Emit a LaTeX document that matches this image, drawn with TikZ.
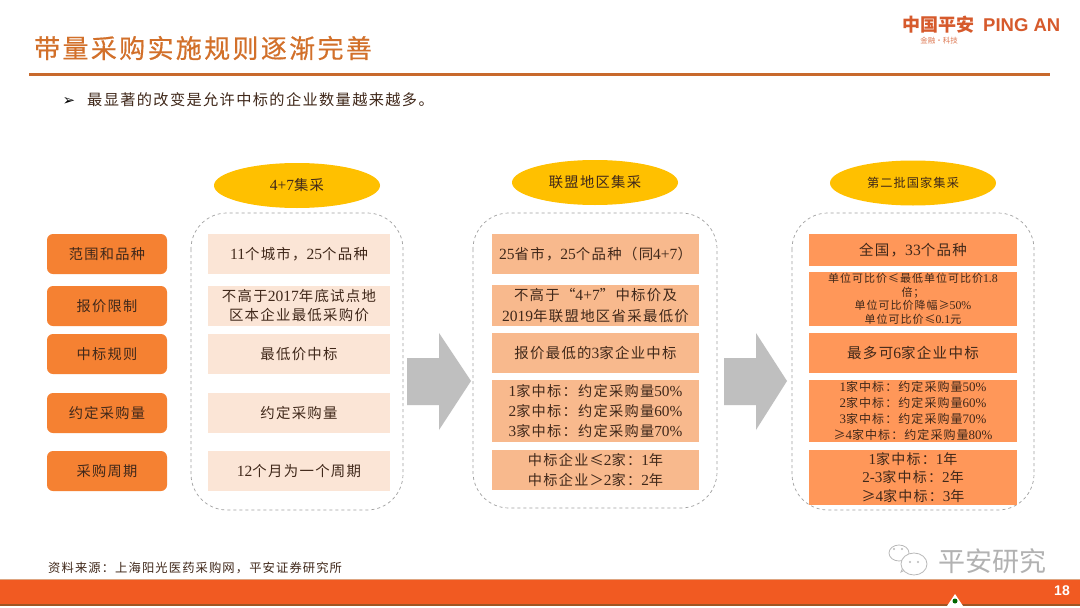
\documentclass[tikz,border=0pt]{standalone}
\usepackage{fontspec}
\usetikzlibrary{shapes.geometric}
\setmainfont{Noto Sans CJK SC}[LetterSpace=9]
\newfontfamily\latn{Liberation Serif}[LetterSpace=0,Scale=1.08]
\newfontfamily\latsans{Liberation Sans}
\newfontfamily\symb{DejaVu Sans}
\newfontfamily\cjktight{Noto Sans CJK SC}
\newfontfamily\titlefont{Noto Sans CJK SC}[LetterSpace=9,FakeBold=0.5]
\definecolor{ruleor}{HTML}{C8692C}
\definecolor{titleor}{HTML}{D2702A}
\definecolor{yel}{HTML}{FFC000}
\definecolor{labelor}{HTML}{F58132}
\definecolor{paleA}{HTML}{FBE5D6}
\definecolor{paleB}{HTML}{F8B98D}
\definecolor{paleC}{HTML}{FF9759}
\definecolor{txt}{HTML}{40281A}
\definecolor{greyarrow}{HTML}{BFBFBF}
\definecolor{barcol}{HTML}{F15A22}
\definecolor{logocol}{HTML}{D65A2C}
\newcommand{\fs}[2]{\fontsize{#1}{#2}\selectfont}
\tikzset{
  x=1pt,y=-1pt,
  ov/.style={ellipse,fill=yel,minimum width=166pt,minimum height=45pt,inner sep=0pt,text=txt,font=\fs{14.3}{16}},
  cont/.style={draw=gray!75,dashed,line width=0.7pt,rounded corners=36pt,fill=white},
  lab/.style={fill=labelor,rounded corners=6pt,minimum width=120pt,minimum height=40pt,inner sep=0pt,text=txt,font=\fs{14.2}{17}},
  cell/.style={minimum height=#1,inner sep=0pt,text=txt,align=center},
  cA/.style={cell=40pt,fill=paleA,minimum width=182pt,font=\fs{14.4}{19}},
  cB/.style={cell=#1,fill=paleB,minimum width=207pt,font=\fs{14.4}{21}},
  cC/.style={cell=#1,fill=paleC,minimum width=208pt},
  bigarrow/.style={fill=greyarrow,draw=none},
}
\begin{document}
\begin{tikzpicture}
\useasboundingbox (0,0) rectangle (1080,608);
\fill[white] (0,0) rectangle (1080,608);
% header
\node[anchor=west,text=titleor,inner sep=0pt,font=\titlefont\fs{26}{30}] (title) at (34,48) {带量采购实施规则逐渐完善};
\fill[ruleor] (29,73) rectangle (1050,76);
\node[anchor=west,inner sep=0pt,text=logocol,font=\cjktight\bfseries\fs{18}{20}] (logoa) at (902,25) {中国平安};
\node[anchor=west,inner sep=0pt,text=logocol,font=\latsans\bfseries\fs{18.5}{20}] (logob) at (983,25) {PING AN};
\node[anchor=center,inner sep=0pt,text=logocol!80,font=\cjktight\fs{7.5}{9}] (logoc) at (939,41) {金融·科技};
\node[inner sep=0pt,text=black,font=\symb\fs{15}{16}] (bul) at (69,101) {➢};
\node[anchor=west,inner sep=0pt,text=txt,font=\fs{15.2}{18}] (sub) at (87,100) {最显著的改变是允许中标的企业数量越来越多。};
% ovals
\node[ov] (o1) at (297,185.5) {{\latn 4+7}集采};
\node[ov] (o2) at (595,182.5) {联盟地区集采};
\node[ov,font=\fs{12.2}{14}] (o3) at (913,183) {第二批国家集采};
% containers
\draw[cont] (191,213) rectangle (403,510);
\draw[cont] (473,213) rectangle (717,508);
\draw[cont] (792,213) rectangle (1034,510);
% arrows
\fill[bigarrow] (407,358) -- (439,358) -- (439,333) -- (471,381) -- (439,430) -- (439,405) -- (407,405) -- cycle;
\fill[bigarrow] (724,358) -- (756,358) -- (756,333) -- (787,381) -- (756,430) -- (756,405) -- (724,405) -- cycle;
% left labels
\node[lab] (l1) at (107,254) {范围和品种};
\node[lab] (l2) at (107,306) {报价限制};
\node[lab] (l3) at (107,354) {中标规则};
\node[lab] (l4) at (107,413) {约定采购量};
\node[lab] (l5) at (107,471) {采购周期};
% column 1
\node[cA] (a1) at (299,254) {{\latn 11}个城市，{\latn 25}个品种};
\node[cA] (a2) at (299,306) {不高于{\latn 2017}年底试点地\\区本企业最低采购价};
\node[cA] (a3) at (299,354) {最低价中标};
\node[cA] (a4) at (299,413) {约定采购量};
\node[cA] (a5) at (299,471) {{\latn 12}个月为一个周期};
% column 2
\node[cB=40pt] (b1) at (595.5,254) {{\latn 25}省市，{\latn 25}个品种（同{\latn 4+7}）};
\node[cB=41pt] (b2) at (595.5,305.5) {不高于“{\latn 4+7}”中标价及\\{\latn 2019}年联盟地区省采最低价};
\node[cB=40pt] (b3) at (595.5,353) {报价最低的{\latn 3}家企业中标};
\node[cB=62pt,font=\fs{14.2}{20}] (b4) at (595.5,411) {{\latn 1}家中标：约定采购量{\latn 50\%}\\{\latn 2}家中标：约定采购量{\latn 60\%}\\{\latn 3}家中标：约定采购量{\latn 70\%}};
\node[cB=40pt,font=\fs{14.2}{20}] (b5) at (595.5,470) {中标企业≤{\latn 2}家：{\latn 1}年\\中标企业＞{\latn 2}家：{\latn 2}年};
% column 3
\node[cC=32pt,font=\fs{14.5}{17}] (c1) at (913,250) {全国，{\latn 33}个品种};
\node[cC=54pt,font=\fs{11}{13.5}] (c2) at (913,299) {单位可比价≤最低单位可比价{\latn 1.8}\\倍；\\单位可比价降幅≥{\latn 50\%}\\单位可比价≤{\latn 0.1}元};
\node[cC=40pt,font=\fs{14.5}{17}] (c3) at (913,353) {最多可{\latn 6}家企业中标};
\node[cC=62pt,font=\fs{12}{16}] (c4) at (913,411) {{\latn 1}家中标：约定采购量{\latn 50\%}\\{\latn 2}家中标：约定采购量{\latn 60\%}\\{\latn 3}家中标：约定采购量{\latn 70\%}\\≥{\latn 4}家中标：约定采购量{\latn 80\%}};
\node[cC=55pt,font=\fs{14}{18.5}] (c5) at (913,477.5) {{\latn 1}家中标：{\latn 1}年\\{\latn 2-3}家中标：{\latn 2}年\\≥{\latn 4}家中标：{\latn 3}年};
% source
\node[anchor=west,inner sep=0pt,text=txt,font=\fs{12.3}{14}] (src) at (48,568) {资料来源：上海阳光医药采购网，平安证券研究所};
% watermark
\begin{scope}[draw=gray!55,line width=0.8pt]
\draw (899,553) ellipse (10 and 8);
\draw (904,565) -- (901,572) -- (909,568);
\fill[white] (914,564) ellipse (13 and 11);
\draw (914,564) ellipse (13 and 11);
\fill[gray!55] (894,549) circle (1.1) (902,549) circle (1.1) (910,562) circle (1.1) (918,562) circle (1.1);
\end{scope}
\node[anchor=west,inner sep=0pt,text=gray!60,font=\cjktight\fs{27}{30}] (wm) at (938,561) {平安研究};
% footer
\fill[barcol] (0,580) rectangle (1080,604);
\fill[ruleor!80!black] (0,604) rectangle (1080,606);
\fill[ruleor!60] (0,579) rectangle (1080,580);
\node[inner sep=0pt,text=white,font=\latsans\bfseries\fs{14}{16}] (pg) at (1062,591) {18};
\fill[white] (947,606) -- (955,594) -- (963,606) -- cycle;
\fill[green!40!black] (955,601) circle (2.5);
\end{tikzpicture}
\end{document}
